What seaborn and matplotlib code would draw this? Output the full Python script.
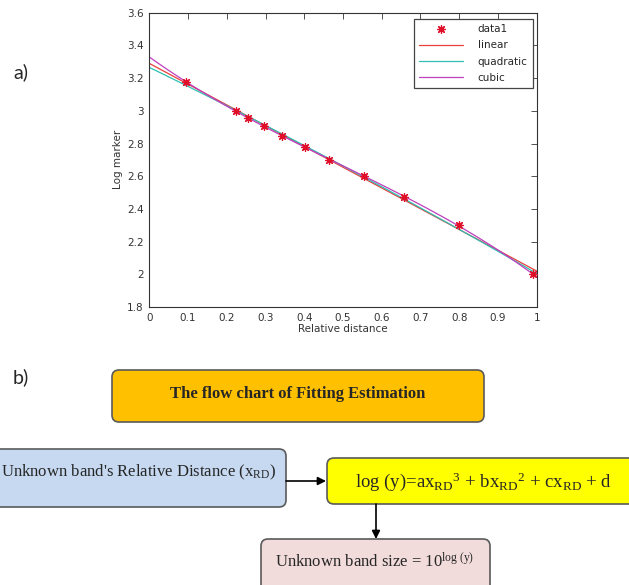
import numpy as np
import matplotlib
matplotlib.use("Agg")
import matplotlib.pyplot as plt
import seaborn as sns
from matplotlib.patches import FancyBboxPatch
from matplotlib.ticker import MultipleLocator, FuncFormatter

# Data (relative distance vs log of marker size)
rel_distance = [0.095, 0.225, 0.255, 0.297, 0.343, 0.402, 0.465, 0.553, 0.657, 0.800, 0.990]
log_marker = [3.175, 3.000, 2.955, 2.905, 2.845, 2.780, 2.700, 2.600, 2.475, 2.300, 2.000]

fit_names = ["linear", "quadratic", "cubic"]
fit_orders = [1, 2, 3]
fit_colors = ["#e8403c", "#2fbfb0", "#bf3fbf"]

# Flow chart texts
flow_title = "The flow chart of Fitting Estimation"
flow_input = r"Unknown band's Relative Distance (x$_{\mathrm{RD}}$)"
flow_formula = (r"log (y)=ax$_{\mathrm{RD}}$$^{3}$ + bx$_{\mathrm{RD}}$$^{2}$"
                r" + cx$_{\mathrm{RD}}$ + d")
flow_output = r"Unknown band size = 10$^{\mathrm{log\ (y)}}$"

sns.set_style("white")
plt.rcParams["font.family"] = ["DejaVu Sans"]
plt.rcParams["mathtext.fontset"] = "custom"
plt.rcParams["mathtext.rm"] = "Liberation Serif"
plt.rcParams["mathtext.it"] = "Liberation Serif:italic"

W, H = 629, 585
fig = plt.figure(figsize=(W / 100, H / 100), dpi=100)

# ---- a) fitting plot ----
left, right, top, bottom = 149.3, 536.7, 12.7, 307.0
ax = fig.add_axes([left / W, 1 - bottom / H, (right - left) / W, (bottom - top) / H])
ax.set_xlim(0, 1)
ax.set_ylim(1.8, 3.6)

sns.scatterplot(x=rel_distance, y=log_marker, marker=(8, 2, 0), color="#e0102a",
                s=32, linewidth=0.9, label="data1", ax=ax, zorder=3)
for name, order, col in zip(fit_names, fit_orders, fit_colors):
    sns.regplot(x=rel_distance, y=log_marker, order=order, ci=None, scatter=False,
                truncate=False, ax=ax, line_kws={"color": col, "lw": 0.9})
    ax.lines[-1].set_label(name)

ax.set_xlim(0, 1)
ax.set_ylim(1.8, 3.6)
ax.xaxis.set_major_locator(MultipleLocator(0.1))
ax.yaxis.set_major_locator(MultipleLocator(0.2))
fmt = FuncFormatter(lambda v, p: "%g" % round(v, 2))
ax.xaxis.set_major_formatter(fmt)
ax.yaxis.set_major_formatter(fmt)
ax.tick_params(direction="in", top=True, right=True, length=4, width=0.6,
               labelsize=7.5, colors="#333333", pad=4)
for sp in ax.spines.values():
    sp.set_color("#333333")
    sp.set_linewidth(0.8)
ax.set_xlabel("Relative distance", fontsize=7.5, color="#333333", labelpad=1)
ax.set_ylabel("Log marker", fontsize=7.5, color="#333333", labelpad=3)

leg = ax.legend(loc="upper right", bbox_to_anchor=(0.99, 0.979), borderaxespad=0,
                fontsize=7.5, frameon=True, fancybox=False, framealpha=1,
                edgecolor="#444444", handlelength=4.2, handletextpad=1.4,
                labelspacing=0.6, borderpad=0.5)
leg.get_frame().set_linewidth(0.9)

# ---- overlay for labels and flow chart (pixel coordinates) ----
ov = fig.add_axes([0, 0, 1, 1], zorder=-1)
ov.set_xlim(0, W)
ov.set_ylim(H, 0)
ov.axis("off")

ov.text(13, 72, "a)", fontsize=14, family="Lato", va="center", ha="left")
ov.text(13, 377, "b)", fontsize=14, family="Lato", va="center", ha="left")


def box(x0, y0, x1, y1, fc):
    ov.add_patch(FancyBboxPatch((x0, y0), x1 - x0, y1 - y0,
                                boxstyle="round,pad=0,rounding_size=7",
                                fc=fc, ec="#5a5a5a", lw=1.2))


box(112, 370, 484, 422, "#ffc000")
ov.text(298, 394, flow_title, fontsize=12, family="Liberation Serif",
        weight="bold", ha="center", va="center")

box(-20, 449, 286, 507, "#c6d9f1")
ov.text(1, 472, flow_input, fontsize=12, family="Liberation Serif",
        ha="left", va="center")

box(327, 458, 660, 504, "#ffff00")
ov.text(355, 482, flow_formula, fontsize=13.5, family="Liberation Serif",
        ha="left", va="center")

box(261, 539, 490, 600, "#f2dcdb")
ov.text(275, 562, flow_output, fontsize=12, family="Liberation Serif",
        ha="left", va="center")

arrow = dict(arrowstyle="-|>", color="black", lw=1.2, mutation_scale=12,
             shrinkA=0, shrinkB=0)
ov.annotate("", xy=(326, 481), xytext=(286, 481), arrowprops=arrow)
ov.annotate("", xy=(376, 539), xytext=(376, 504), arrowprops=arrow)

fig.savefig("out.png", dpi=100)
